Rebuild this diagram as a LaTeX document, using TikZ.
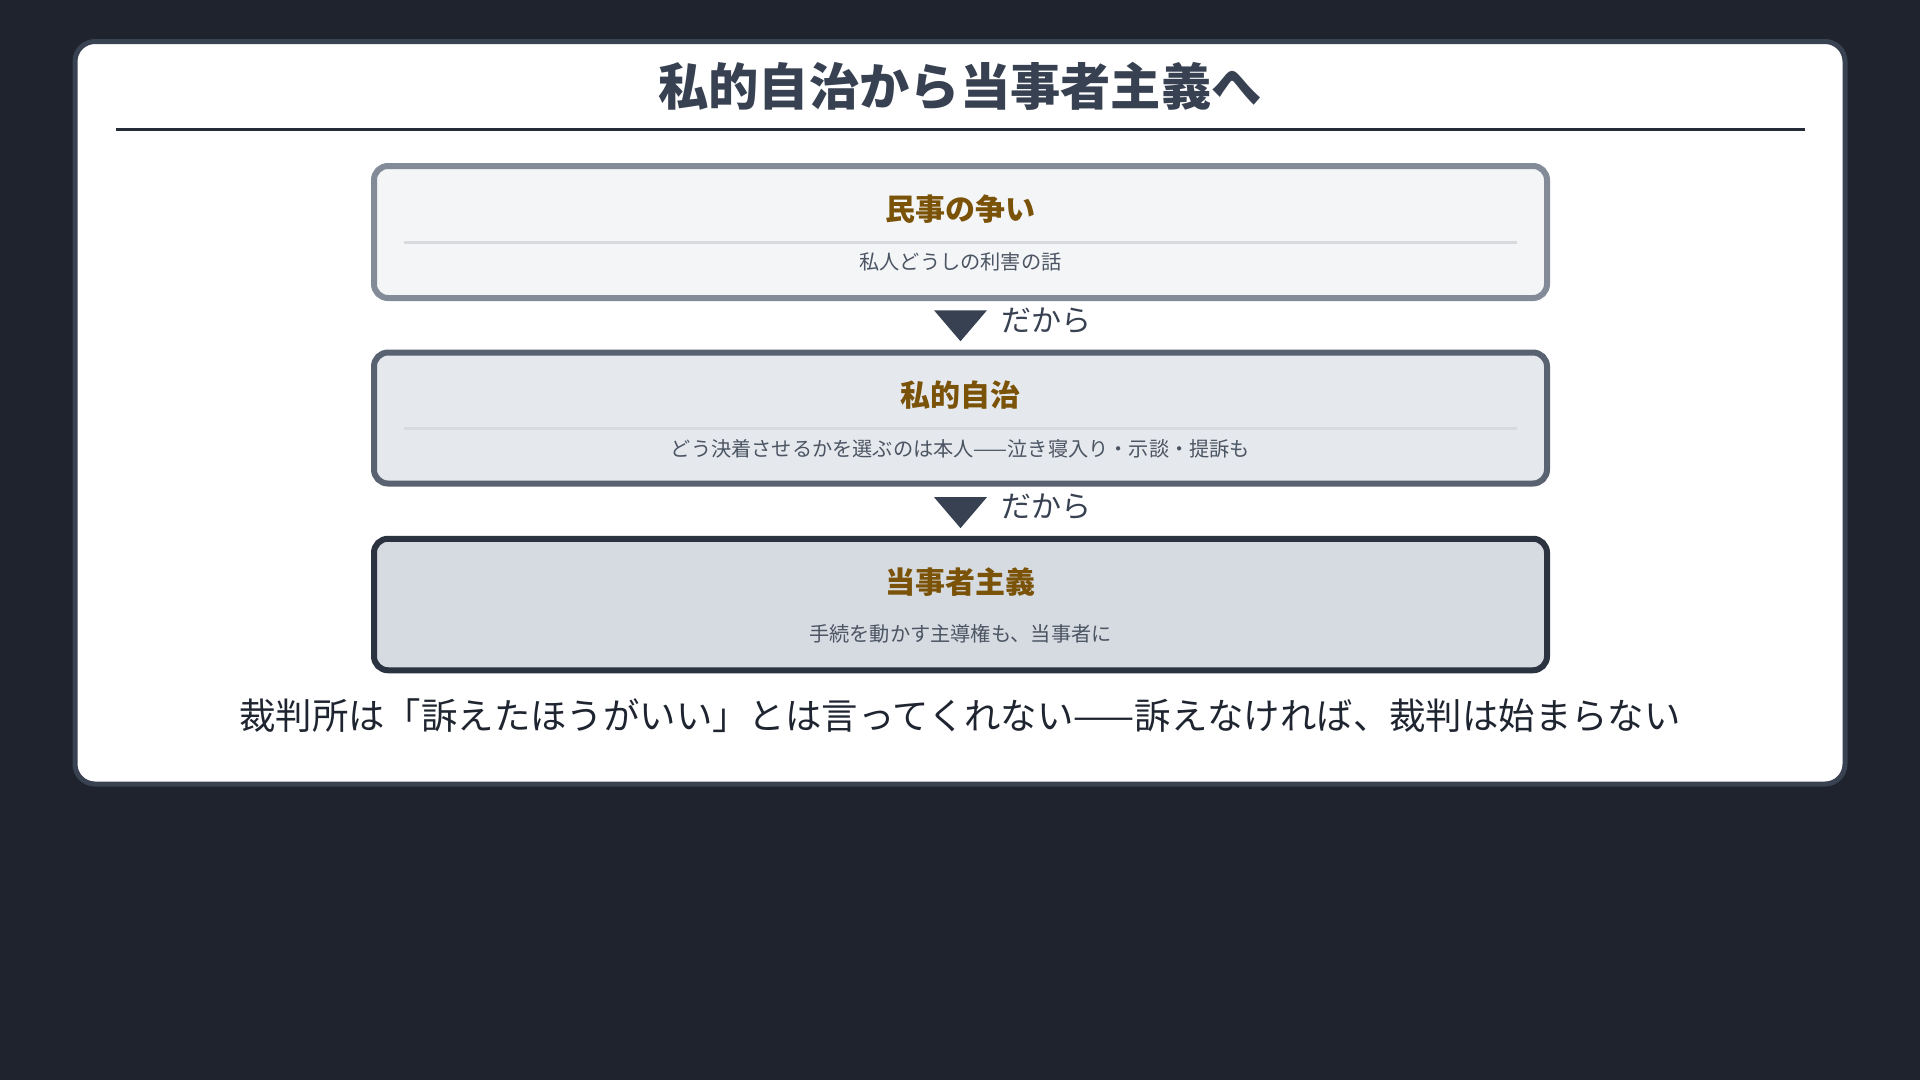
\documentclass[tikz,border=0pt]{standalone}
\usepackage{fontspec}
\setmainfont{Noto Sans CJK JP}
\usetikzlibrary{calc}
\definecolor{bgc}{HTML}{1E232D}
\definecolor{cardc}{HTML}{394250}
\definecolor{headc}{HTML}{374151}
\definecolor{rulec}{HTML}{262C37}
\definecolor{b1d}{HTML}{838B99}
\definecolor{b1f}{HTML}{F4F5F7}
\definecolor{b2d}{HTML}{596271}
\definecolor{b2f}{HTML}{E5E8EC}
\definecolor{b3d}{HTML}{2B3240}
\definecolor{b3f}{HTML}{D6DAE1}
\definecolor{titlec}{RGB}{122,82,8}
\definecolor{subc}{HTML}{4B5563}
\definecolor{sepc}{HTML}{D8DADE}
\definecolor{arrowc}{HTML}{374151}
\definecolor{footc}{HTML}{1F2530}
\begin{document}
\begin{tikzpicture}[x=1pt,y=-1pt,
  boxs/.style={draw, line width=6pt, rounded corners=14pt, minimum width=1173pt, inner sep=0pt},
  ttl/.style={font=\bfseries\fontsize{30}{36}\selectfont, text=titlec, inner sep=0pt},
  subt/.style={font=\fontsize{20.2}{24}\selectfont, text=subc, inner sep=0pt},
  sepl/.style={draw=sepc, line width=3pt},
  tri/.style={fill=arrowc},
  lbl/.style={font=\fontsize{30}{36}\selectfont, text=arrowc, inner sep=0pt, anchor=west}]
\useasboundingbox (0,0) rectangle (1920,1080);
\fill[bgc] (0,0) rectangle (1920,1080);
\draw[fill=white, draw=cardc, line width=5pt, rounded corners=20pt] (75,41.5) rectangle (1845,784);
\node[font=\bfseries\fontsize{50.3}{60}\selectfont, text=headc, inner sep=0pt] (head) at (960,86) {私的自治から当事者主義へ};
\draw[rulec, line width=3pt] (116,129) -- (1805,129);

% box 1
\node[boxs, draw=b1d, fill=b1f, minimum height=132pt] (b1) at (960.5,232) {};
\node[ttl] (t1) at (960.5,209) {民事の争い};
\draw[sepl] (404,242.5) -- (1517,242.5);
\node[subt] (s1) at (960.5,262) {私人どうしの利害の話};

% box 2
\node[boxs, draw=b2d, fill=b2f, minimum height=131pt] (b2) at (960.5,418) {};
\node[ttl] (t2) at (960.5,395.5) {私的自治};
\draw[sepl] (404,428.6) -- (1517,428.6);
\node[subt] (s2) at (960.5,449) {どう決着させるかを選ぶのは本人——泣き寝入り・示談・提訴も};

% box 3
\node[boxs, draw=b3d, fill=b3f, minimum height=131.5pt] (b3) at (960.5,604.5) {};
\node[ttl] (t3) at (960.5,581.7) {当事者主義};
\draw[sepl, draw=sepc!70!b3f] (404,616) -- (1517,616);
\node[subt] (s3) at (960.5,634) {手続を動かす主導権も、当事者に};

% arrows
\coordinate (m1) at ($(b1.south)!0.5!(b2.north)$);
\coordinate (m2) at ($(b2.south)!0.5!(b3.north)$);
\fill[tri] ($(m1)+(-26.5,-15)$) -- ($(m1)+(26.5,-15)$) -- ($(m1)+(0,16)$) -- cycle;
\node[lbl] (l1) at ($(m1)+(40.5,-4.5)$) {だから};
\fill[tri] ($(m2)+(-26.5,-14)$) -- ($(m2)+(26.5,-14)$) -- ($(m2)+(0,17)$) -- cycle;
\node[lbl] (l2) at ($(m2)+(40.5,-4.5)$) {だから};

% footer
\node[font=\fontsize{36.4}{42}\selectfont, text=footc, inner sep=0pt] (foot) at (960,716) {裁判所は「訴えたほうがいい」とは言ってくれない——訴えなければ、裁判は始まらない};
\end{tikzpicture}
\end{document}
